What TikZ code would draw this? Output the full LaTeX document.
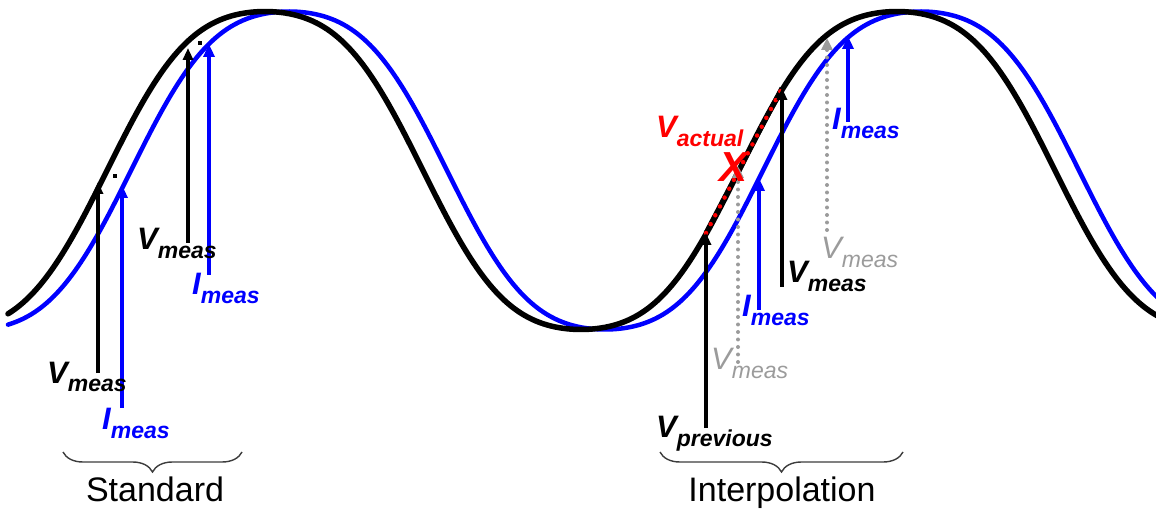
\documentclass[tikz,border=0pt]{standalone}
\usepackage{fontspec}
\setmainfont{Liberation Sans}
\usetikzlibrary{arrows.meta,decorations.pathreplacing}
\definecolor{greyc}{RGB}{155,155,155}
\definecolor{bracec}{RGB}{60,60,60}
\newcommand{\labsub}[2]{{\fontsize{31}{31}\selectfont #1}\raisebox{-9pt}{\fontsize{23}{23}\selectfont #2}}
\begin{document}
\begin{tikzpicture}[x=1pt,y=-1pt,
  declare function={wv(\t)=170.5-169.69*(cos((\t-265)*0.5696203)-0.063*cos((\t-265)*1.7088608));},
  lab/.style={inner sep=0pt, anchor=base west, font=\bfseries\itshape},
  glab/.style={inner sep=0pt, anchor=base west, font=\itshape, text=greyc},
  varrow/.style={black, line width=3.5pt, -{Triangle[length=12pt,width=10pt]}},
  iarrow/.style={blue, line width=4.5pt, -{Triangle[length=13pt,width=11pt]}},
  garrow/.style={greyc, line width=4pt, line cap=round, dash pattern=on 0pt off 7.5pt, -{Triangle[length=12pt,width=11pt]}},
  bracedeco/.style={bracec, line width=1.4pt, decorate, decoration={brace, amplitude=20pt, mirror}},
  caption/.style={inner sep=0pt, anchor=base, font=\fontsize{34}{34}\selectfont}]
\useasboundingbox (0,0) rectangle (1156,510);
\begin{scope}
\clip (0,0) rectangle (1156,510);
\draw[blue, line width=4.5pt, line cap=round] plot[domain=8:1160, samples=300, smooth] (\x, {wv(\x-24)});
\draw[black, line width=5.5pt, line cap=round] plot[domain=8:1160, samples=300, smooth] (\x, {wv(\x)});
\end{scope}

% Standard: arrows
\coordinate (s1b) at (98,373);  \coordinate (s1t) at (98,182);
\coordinate (s2b) at (122,408); \coordinate (s2t) at (122,185);
\coordinate (s3b) at (188,243); \coordinate (s3t) at (188,48);
\coordinate (s4b) at (209,275); \coordinate (s4t) at (209,44);
\draw[varrow] (s1b) -- (s1t);
\draw[iarrow] (s2b) -- (s2t);
\draw[varrow] (s3b) -- (s3t);
\draw[iarrow] (s4b) -- (s4t);
\fill (113,174) rectangle (117,178);
\fill (198,41) rectangle (202,45);

% Interpolation: arrows
\coordinate (p1b) at (706,428); \coordinate (p1t) at (706,233);
\coordinate (g1b) at (738,362); \coordinate (g1t) at (738,166);
\coordinate (i1b) at (759,310); \coordinate (i1t) at (759,178);
\coordinate (m1b) at (782,287); \coordinate (m1t) at (782,88);
\coordinate (g2b) at (827,230); \coordinate (g2t) at (827,38);
\coordinate (i2b) at (848,122); \coordinate (i2t) at (848,36);
\draw[line width=5pt, black] (p1t) -- (m1t);
\draw[red, line width=4.5pt, line cap=round, dash pattern=on 0pt off 10pt] (p1t) -- (m1t);
\draw[garrow] (g1b) -- (g1t);
\draw[garrow] (g2b) -- (g2t);
\draw[varrow] (p1b) -- (p1t);
\draw[iarrow] (i1b) -- (i1t);
\draw[varrow] (m1b) -- (m1t);
\draw[iarrow] (i2b) -- (i2t);

% labels
\node[lab] (lv1) at (47,383) {\labsub{V}{meas}};
\node[lab, text=blue] (li1) at (102,429) {\labsub{I}{meas}};
\node[lab] (lv2) at (137,250) {\labsub{V}{meas}};
\node[lab, text=blue] (li2) at (192,295) {\labsub{I}{meas}};
\node[lab, text=red] (lva) at (656,138) {\labsub{V}{actual}};
\node[inner sep=0pt, text=red, font=\fontsize{42}{42}\selectfont\bfseries\itshape] (xmark) at (733,167) {X};
\node[lab] (lvp) at (656,437) {\labsub{V}{previous}};
\node[glab] (lg1) at (711,370) {\labsub{V}{meas}};
\node[lab, text=blue] (li3) at (742,317) {\labsub{I}{meas}};
\node[lab] (lv3) at (787,283) {\labsub{V}{meas}};
\node[glab] (lg2) at (821,259) {\labsub{V}{meas}};
\node[lab, text=blue] (li4) at (832,130) {\labsub{I}{meas}};

% braces
\coordinate (b1l) at (63,452); \coordinate (b1r) at (242,452);
\coordinate (b2l) at (660,452); \coordinate (b2r) at (903,452);
\draw[bracedeco] (b1l) -- (b1r);
\draw[bracedeco] (b2l) -- (b2r);
\node[caption] (cstd) at (155,501) {Standard};
\node[caption] (cint) at (782,501) {Interpolation};
\end{tikzpicture}
\end{document}
